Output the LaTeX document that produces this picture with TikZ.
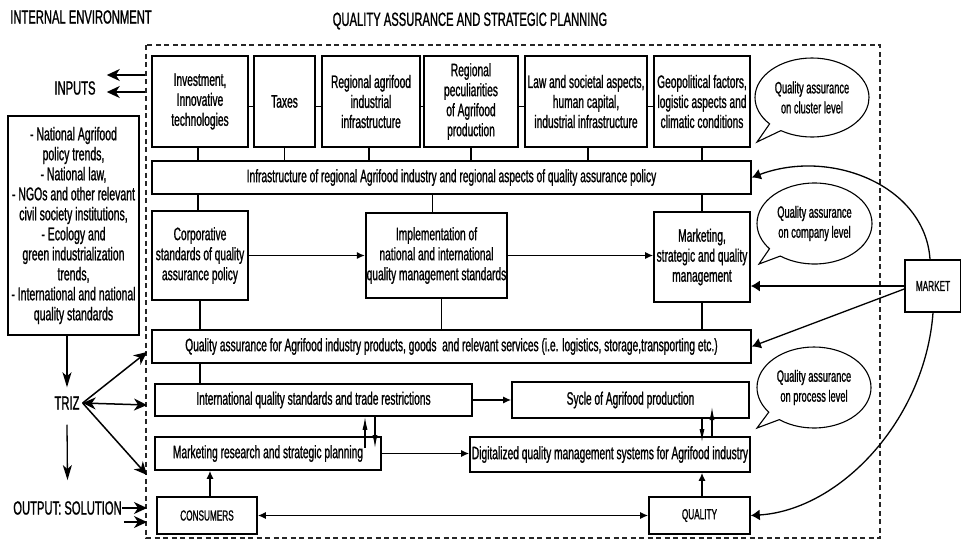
\documentclass[tikz,border=0pt]{standalone}
\usepackage{fontspec}
\setmainfont{Liberation Sans}[FakeStretch=0.567,FakeBold=1.0]
\newfontfamily\headfont{Liberation Sans}[FakeStretch=0.59,FakeBold=1.0]
\usetikzlibrary{arrows.meta,shapes.callouts}

\tikzset{
  box/.style={draw, line width=1.6pt, rectangle, align=center, inner sep=1pt, font=\fontsize{18}{20}\selectfont},
  bubble/.style={draw, line width=1.1pt, ellipse callout, align=center, inner sep=0pt, font=\fontsize{16.4}{20}\selectfont},
  headtxt/.style={inner sep=0pt, font=\headfont\fontsize{19}{20}\selectfont},
  captxt/.style={font=\fontsize{14.5}{17}\selectfont},
  conn/.style={line width=1.3pt},
  bigarr/.style={line width=1.3pt, -{Latex[length=9pt,width=11pt]}},
  smallarr/.style={line width=1.4pt, -{Latex[length=8pt,width=7pt]}},
  duoarr/.style={line width=1.4pt, {Latex[length=8pt,width=7pt]}-{Latex[length=8pt,width=7pt]}},
  thinarr/.style={line width=1.1pt, -{Latex[length=13pt,width=5pt]}},
  sidearr/.style={line width=1.5pt, -{Stealth[length=13pt,width=12pt,inset=4pt]}},
  sideduo/.style={line width=1.5pt, {Stealth[length=13pt,width=12pt,inset=4pt]}-{Stealth[length=13pt,width=12pt,inset=4pt]}},
  downarr/.style={line width=1.3pt, -{Stealth[length=15pt,width=9pt,inset=4pt]}},
}

\begin{document}
\begin{tikzpicture}[x=1pt,y=1pt,yscale=-1,xscale=1]
\useasboundingbox (0,0) rectangle (961,542);

% Text Node
\draw (81,17) node [headtxt] (envtitle) {INTERNAL ENVIRONMENT};
% Text Node
\draw (470,21) node [headtxt] (qatitle) {QUALITY ASSURANCE AND STRATEGIC PLANNING};

%Shape: Rectangle
\draw [line width=1.3pt, dash pattern=on 5pt off 3.5pt, black!85] (146,45) rectangle (880,538);

%Shape: Rectangle
\draw (200,101.5) node [box] [minimum width=96pt, minimum height=91pt] (inv) {Investment,\\Innovative\\technologies};
\draw (284.5,101.5) node [box] [minimum width=61pt, minimum height=91pt] (taxes) {Taxes};
\draw (371,101.5) node [box] [minimum width=98pt, minimum height=91pt] (agri) {Regional agrifood\\industrial\\infrastructure};
\draw (471,101.5) node [box] [minimum width=94pt, minimum height=91pt] (pecul) {Regional\\peculiarities\\of Agrifood\\production};
\draw (586,101.5) node [box] [minimum width=122pt, minimum height=91pt] (law) {Law and societal aspects,\\human capital,\\industrial infrastructure};
\draw (702,101.5) node [box] [minimum width=96pt, minimum height=91pt] (geo) {Geopolitical factors,\\logistic aspects and\\climatic conditions};
%Shape: Callout
\draw (812,97.5) node [bubble] [minimum width=114pt, minimum height=79pt, callout absolute pointer={(757,142)}] (clusterlvl) {Quality assurance\\on cluster level};

%Shape: Rectangle
\draw (451.5,177.5) node [box] [minimum width=599pt, minimum height=33pt] (infbar) {Infrastructure of regional Agrifood industry and regional aspects of quality assurance policy};

%Shape: Rectangle
\draw (200,255.5) node [box] [minimum width=96pt, minimum height=89pt] (corp) {Corporative\\standards of quality\\assurance policy};
\draw (436.5,255.5) node [box] [minimum width=141pt, minimum height=85pt] (impl) {Implementation of\\national and international\\quality management standards};
\draw (702,257) node [box] [minimum width=96pt, minimum height=90pt] (mark) {Marketing,\\strategic and quality\\management};
%Shape: Callout
\draw (814.5,223.5) node [bubble] [minimum width=115pt, minimum height=81pt, callout absolute pointer={(759,264)}] (companylvl) {Quality assurance\\on company level};
%Shape: Rectangle
\draw (933,286) node [box] [minimum width=56pt, minimum height=52pt, captxt] (market) {MARKET};

%Shape: Rectangle
\draw (451.5,346.5) node [box] [minimum width=599pt, minimum height=33pt] (qabar) {Quality assurance for Agrifood industry products, goods\ \ and relevant services (i.e. logistics, storage,transporting etc.)};
\draw (313.5,400) node [box] [minimum width=317pt, minimum height=32pt] (intl) {International quality standards and trade restrictions};
\draw (630.5,400) node [box] [minimum width=237pt, minimum height=36pt] (sycle) {Sycle of Agrifood production};
\draw (268,453.5) node [box] [minimum width=226pt, minimum height=33pt] (mres) {Marketing research and strategic planning};
\draw (610,454.5) node [box] [minimum width=280pt, minimum height=35pt] (digit) {Digitalized quality management systems for Agrifood industry};
\draw (207,515.5) node [box] [minimum width=100pt, minimum height=37pt, captxt] (cons) {CONSUMERS};
\draw (699.5,515.5) node [box] [minimum width=101pt, minimum height=37pt, captxt] (qual) {QUALITY};
%Shape: Callout
\draw (814,387.5) node [bubble] [minimum width=114pt, minimum height=81pt, callout absolute pointer={(757,428)}] (processlvl) {Quality assurance\\on process level};

%Shape: Rectangle
\draw (73.5,225.5) node [box] [minimum width=131pt, minimum height=219pt, font=\fontsize{18.5}{20}\selectfont] (lbox) {- National Agrifood\\policy trends,\\- National law,\\- NGOs and other relevant\\civil society institutions,\\- Ecology and\\green industrialization\\trends,\\- International and national\\quality standards};

% Text Node
\draw (75,88) node [headtxt] [inner xsep=11pt] (inputs) {INPUTS};
% Text Node
\draw (67,403) node [headtxt] [inner xsep=3pt, inner ysep=9pt] (triz) {TRIZ};
% Text Node
\draw (67.5,508) node [headtxt] (output) {OUTPUT: SOLUTION};

%Straight Lines
\draw [conn] ([yshift=5pt]inv.east) -- ([yshift=5pt]taxes.west);
\draw [conn] ([yshift=5pt]taxes.east) -- ([yshift=5pt]agri.west);
\draw [conn] ([yshift=5pt]agri.east) -- ([yshift=5pt]pecul.west);
\draw [conn] ([yshift=5pt]pecul.east) -- ([yshift=5pt]law.west);
\draw [conn] ([yshift=5pt]law.east) -- ([yshift=5pt]geo.west);
\draw [conn] ([xshift=-2pt]inv.south) -- ([xshift=-2pt]inv.south |- infbar.north);
\draw [conn] (taxes.south) -- (taxes.south |- infbar.north);
\draw [conn] ([xshift=-2pt]agri.south) -- ([xshift=-2pt]agri.south |- infbar.north);
\draw [conn] (pecul.south) -- (pecul.south |- infbar.north);
\draw [conn] ([xshift=2pt]law.south) -- ([xshift=2pt]law.south |- infbar.north);
\draw [conn] (geo.south) -- (geo.south |- infbar.north);
\draw [conn] ([xshift=-2pt]corp.north |- infbar.south) -- ([xshift=-2pt]corp.north);
\draw [conn] ([xshift=-4pt]impl.north |- infbar.south) -- ([xshift=-4pt]impl.north);
\draw [conn] (mark.north |- infbar.south) -- (mark.north);
\draw [conn] (corp.south) -- (corp.south |- qabar.north);
\draw [conn] ([xshift=5pt]impl.south) -- ([xshift=5pt]impl.south |- qabar.north);
\draw [conn] (mark.south) -- (mark.south |- qabar.north);
\draw [conn] (corp.south |- qabar.south) -- (corp.south |- intl.north);

%Arrows
\draw [smallarr] (corp.east) -- (impl.west);
\draw [smallarr] (impl.east) -- (impl.east -| mark.west);
\draw [smallarr] (intl.east) -- (sycle.west);
\draw [smallarr] (mres.east) -- (mres.east -| digit.west);
\draw [duoarr] (cons.east) -- (qual.west);
\draw [smallarr] ([xshift=3pt]cons.north) -- ([xshift=3pt]cons.north |- mres.south);
\draw [smallarr] ([xshift=2.5pt]qual.north) -- ([xshift=2.5pt]qual.north |- digit.south);

\coordinate (ua) at (365,448);
\coordinate (ub) at (375,448);
\draw [thinarr] (ua) -- (ua |- intl.south);
\draw [thinarr] (ub |- intl.south) -- (ub);
\coordinate (uc) at (702,442);
\coordinate (ud) at (712,407);
\draw [thinarr] (uc |- sycle.south) -- (uc);
\draw [thinarr] (ud |- digit.north) -- (ud);

%Curve Lines
\draw [bigarr] ([xshift=-3pt]market.north) .. controls (925,185) and (830,148) .. (infbar.east);
\draw [bigarr] (market.west) -- (market.west -| mark.east);
\draw [bigarr] ([yshift=3pt]market.west) -- (qabar.east);
\draw [bigarr] (market.south) .. controls (925,420) and (840,510) .. (qual.east);

%Left side
\coordinate (inA) at (145,75);
\coordinate (inB) at (145,92);
\draw [sidearr] (inA) -- (inA -| inputs.east);
\draw [sidearr] (inB) -- (inB -| inputs.east);
\draw [downarr] (lbox.south -| triz.north) -- (triz.north);
\draw [downarr] ([yshift=6pt]triz.south) -- ([yshift=-21pt]output.north);
\coordinate (tzA) at (147,352);
\coordinate (tzB) at (147,405);
\coordinate (tzC) at (147,475);
\draw [sidearr] (triz.east) -- (tzA);
\draw [sideduo] (triz.east) -- (tzB);
\draw [sidearr] (triz.east) -- (tzC);
\coordinate (outA) at (147,508);
\coordinate (outB) at (147,522);
\draw [sidearr] (output.east) -- (outA);
\draw [sidearr] ([xshift=2pt]outB -| output.east) -- (outB);

\end{tikzpicture}
\end{document}
